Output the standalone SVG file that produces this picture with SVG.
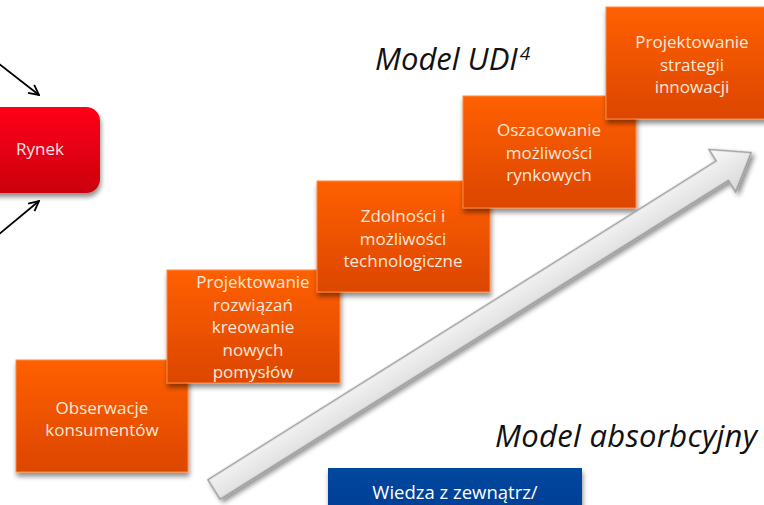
<svg xmlns="http://www.w3.org/2000/svg" width="764" height="505" viewBox="0 0 764 505">
<defs>
  <linearGradient id="og" x1="0" y1="0" x2="0" y2="1">
    <stop offset="0" stop-color="#FF6000"/>
    <stop offset="1" stop-color="#DC4600"/>
  </linearGradient>
  <linearGradient id="rg" x1="0" y1="0" x2="0" y2="1">
    <stop offset="0" stop-color="#FF0015"/>
    <stop offset="1" stop-color="#CC0010"/>
  </linearGradient>
  <linearGradient id="bg" x1="0" y1="0" x2="0" y2="1">
    <stop offset="0" stop-color="#00479F"/>
    <stop offset="1" stop-color="#003E92"/>
  </linearGradient>
  <linearGradient id="ag" x1="0" y1="0" x2="0" y2="1">
    <stop offset="0" stop-color="#FAFAFA"/>
    <stop offset="1" stop-color="#D8D8D8"/>
  </linearGradient>
  <filter id="sh" x="-20%" y="-20%" width="140%" height="150%">
    <feGaussianBlur in="SourceAlpha" stdDeviation="2.5"/>
    <feOffset dx="1" dy="4" result="b"/>
    <feComponentTransfer><feFuncA type="linear" slope="0.45"/></feComponentTransfer>
    <feMerge><feMergeNode/><feMergeNode in="SourceGraphic"/></feMerge>
  </filter>
  <marker id="ah" viewBox="0 0 12 12" refX="11" refY="6" markerWidth="12" markerHeight="12" markerUnits="userSpaceOnUse" orient="auto">
    <path d="M1,1 L11,6 L1,11" fill="none" stroke="#000" stroke-width="1.8"/>
  </marker>
  <style>
    .step { fill: url(#og); stroke: #FF8A45; stroke-width: 1; filter: url(#sh); }
    .st { font-family: "Open Sans", "DejaVu Sans", sans-serif; font-size: 17px; fill: #FCE8DA; text-anchor: middle; }
    .title { font-family: "Open Sans", "DejaVu Sans", sans-serif; font-style: italic; font-size: 31px; fill: #111; }
    .conn { stroke: #000; stroke-width: 1.8; fill: none; marker-end: url(#ah); }
  </style>
</defs>
<rect width="764" height="505" fill="#fff"/>

<g id="connectors">
  <line class="conn" x1="-2" y1="63" x2="39" y2="95"/>
  <line class="conn" x1="-2" y1="235" x2="39" y2="201"/>
</g>

<g id="rynek">
  <rect x="-20" y="107" width="120" height="86" rx="14" fill="url(#rg)" filter="url(#sh)"/>
  <text x="40" y="155" class="st" style="fill:#FFE3E3">Rynek</text>
</g>

<g id="step1">
  <rect class="step" x="16" y="360" width="172" height="112"/>
  <text class="st" x="102" y="414">Obserwacje</text>
  <text class="st" x="102" y="436">konsumentów</text>
</g>
<g id="step2">
  <rect class="step" x="167" y="270" width="173" height="113"/>
  <text class="st" x="253" y="288">Projektowanie</text>
  <text class="st" x="253" y="310.5">rozwiązań</text>
  <text class="st" x="253" y="333">kreowanie</text>
  <text class="st" x="253" y="355.5">nowych</text>
  <text class="st" x="253" y="378">pomysłów</text>
</g>
<g id="step3">
  <rect class="step" x="317" y="181" width="173" height="111"/>
  <text class="st" x="403" y="222">Zdolności i</text>
  <text class="st" x="403" y="244.5">możliwości</text>
  <text class="st" x="403" y="267">technologiczne</text>
</g>
<g id="step4">
  <rect class="step" x="463" y="96" width="173" height="112"/>
  <text class="st" x="549" y="136">Oszacowanie</text>
  <text class="st" x="549" y="158.5">możliwości</text>
  <text class="st" x="549" y="181">rynkowych</text>
</g>
<g id="step5">
  <rect class="step" x="606" y="7" width="173" height="112"/>
  <text class="st" x="692" y="48">Projektowanie</text>
  <text class="st" x="692" y="70.5">strategii</text>
  <text class="st" x="692" y="93">innowacji</text>
</g>

<g id="big-arrow">
  <polygon transform="translate(214 489.5) rotate(-32.1)" points="0,-11.5 600,-11.5 600,-25 634,0 600,25 600,11.5 0,11.5" fill="url(#ag)" stroke="#9A9A9A" stroke-width="1.5" stroke-linejoin="miter" filter="url(#sh)"/>
</g>

<g id="title-udi">
  <text class="title" x="375" y="70">Model UDI<tspan font-size="19" dy="-10" dx="2">4</tspan></text>
</g>
<g id="title-absorb">
  <text class="title" x="495" y="447" textLength="262" lengthAdjust="spacing">Model absorbcyjny</text>
</g>

<g id="wiedza">
  <rect x="328" y="468" width="254" height="50" fill="url(#bg)" filter="url(#sh)"/>
  <text x="455" y="499" class="st" style="fill:#FFFFFF;font-size:18.5px">Wiedza z zewnątrz/</text>
</g>
</svg>
